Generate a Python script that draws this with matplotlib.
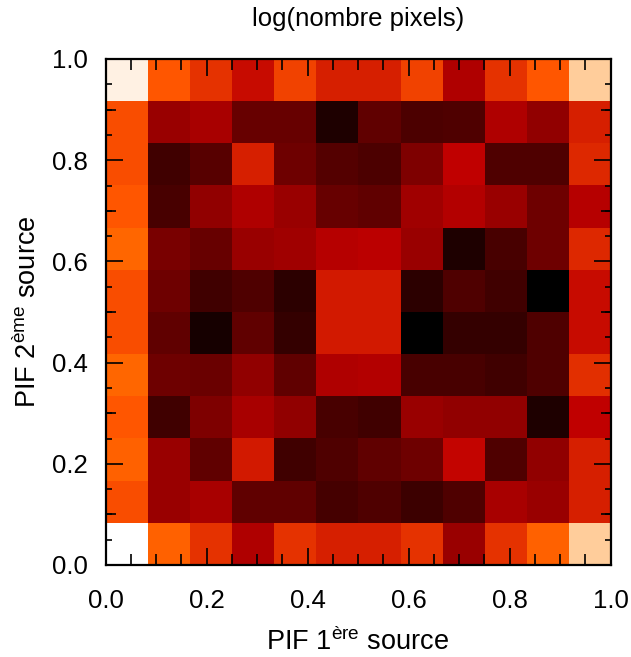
import matplotlib
matplotlib.use("Agg")
import matplotlib.pyplot as plt
import numpy as np
from matplotlib.ticker import MultipleLocator

plt.rcParams['font.family'] = ['Liberation Sans', 'DejaVu Sans']
plt.rcParams['mathtext.fontset'] = 'custom'
plt.rcParams['mathtext.rm'] = 'Liberation Sans'
plt.rcParams['mathtext.it'] = 'Liberation Sans:italic'

# log(nombre pixels), normalised 0..1, rows from top (y=1) to bottom (y=0)
row_00 = [0.97, 0.67, 0.60, 0.52, 0.63, 0.56, 0.56, 0.63, 0.46, 0.60, 0.67, 0.90]
row_01 = [0.65, 0.40, 0.44, 0.27, 0.27, 0.08, 0.25, 0.20, 0.21, 0.46, 0.38, 0.56]
row_02 = [0.65, 0.17, 0.23, 0.56, 0.29, 0.22, 0.20, 0.33, 0.50, 0.21, 0.21, 0.58]
row_03 = [0.67, 0.19, 0.38, 0.46, 0.40, 0.27, 0.25, 0.42, 0.47, 0.40, 0.29, 0.48]
row_04 = [0.70, 0.32, 0.27, 0.40, 0.42, 0.48, 0.49, 0.40, 0.08, 0.19, 0.29, 0.58]
row_05 = [0.65, 0.29, 0.17, 0.21, 0.12, 0.55, 0.55, 0.12, 0.21, 0.17, 0.00, 0.52]
row_06 = [0.65, 0.25, 0.06, 0.25, 0.14, 0.55, 0.55, 0.00, 0.14, 0.14, 0.21, 0.52]
row_07 = [0.70, 0.29, 0.28, 0.38, 0.25, 0.46, 0.47, 0.19, 0.19, 0.17, 0.21, 0.59]
row_08 = [0.67, 0.17, 0.33, 0.44, 0.38, 0.19, 0.17, 0.40, 0.38, 0.38, 0.08, 0.50]
row_09 = [0.69, 0.40, 0.25, 0.55, 0.17, 0.21, 0.25, 0.29, 0.51, 0.21, 0.38, 0.56]
row_10 = [0.65, 0.40, 0.44, 0.25, 0.25, 0.18, 0.21, 0.16, 0.21, 0.44, 0.40, 0.56]
row_11 = [1.00, 0.69, 0.60, 0.46, 0.60, 0.56, 0.56, 0.60, 0.40, 0.60, 0.69, 0.90]

grid = np.array([row_00, row_01, row_02, row_03, row_04, row_05,
                 row_06, row_07, row_08, row_09, row_10, row_11])

title = "log(nombre pixels)"
xlabel = r"PIF 1$^{\mathrm{ère}}$ source"
ylabel = r"PIF 2$^{\mathrm{ème}}$ source"

fig = plt.figure(figsize=(6.31, 6.57), dpi=100)
ax = fig.add_axes([105.5/631, 1 - 565/657, 505/631, 506/657])
ax.imshow(grid, cmap='gist_heat', vmin=0, vmax=1, extent=[0, 1, 0, 1],
          origin='upper', aspect='auto', interpolation='nearest')
ax.set_xlim(0, 1)
ax.set_ylim(0, 1)

ax.xaxis.set_major_locator(MultipleLocator(0.2))
ax.yaxis.set_major_locator(MultipleLocator(0.2))
ax.xaxis.set_minor_locator(MultipleLocator(0.05))
ax.yaxis.set_minor_locator(MultipleLocator(0.05))
ax.tick_params(which='both', direction='in', top=True, right=True,
               labelsize=18.5, width=1.2, colors='black')
ax.tick_params(which='major', length=12.5)
ax.tick_params(axis='x', which='major', pad=17)
ax.tick_params(axis='y', which='major', pad=13)
ax.tick_params(axis='x', which='minor', length=8)
ax.tick_params(axis='y', which='minor', length=4)
for s in ax.spines.values():
    s.set_linewidth(1.6)

# medium-length ticks at 0.1 steps on the y axes
for side in ('left', 'right'):
    sec = ax.secondary_yaxis(side)
    sec.set_yticks([0.1, 0.3, 0.5, 0.7, 0.9])
    sec.set_yticklabels([])
    sec.tick_params(direction='in', length=7.5, width=1.2)
    sec.spines[side].set_visible(False)

ax.set_title(title, fontsize=18.5, pad=24)
ax.set_xlabel(xlabel, fontsize=19.5, labelpad=11)
ax.set_ylabel(ylabel, fontsize=19.5, labelpad=7)

fig.savefig("out.png", dpi=100)
